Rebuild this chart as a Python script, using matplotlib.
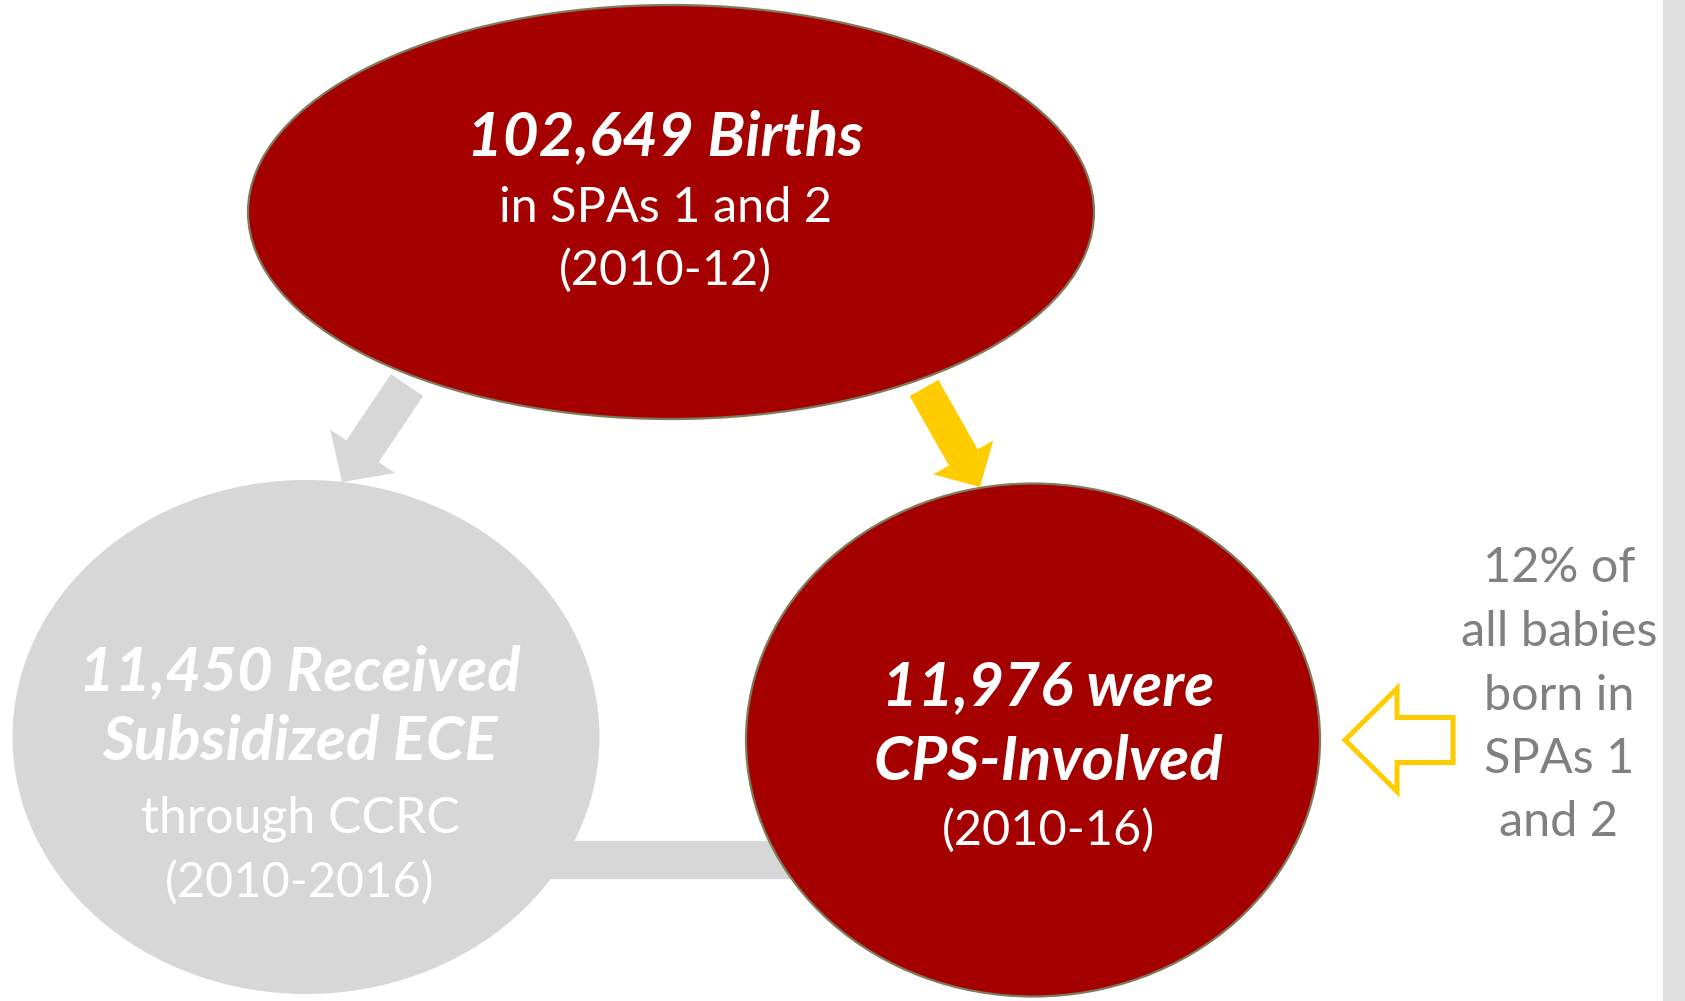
import matplotlib.pyplot as plt
from matplotlib.patches import Ellipse, Rectangle, FancyArrow

# figures shown in the diagram
births = 102649
ece_count = 11450
cps_count = 11976
cps_share = 12

top_lines = [f"{births:,} Births", "in SPAs 1 and 2", "(2010-12)"]
left_lines = [f"{ece_count:,} Received", "Subsidized ECE", "through CCRC", "(2010-2016)"]
right_lines = [f"{cps_count:,} were", "CPS-Involved", "(2010-16)"]
side_lines = [f"{cps_share}% of", "all babies", "born in", "SPAs 1", "and 2"]

RED = "#a40000"
GRAY = "#d7d7d7"
YELLOW = "#ffcc00"
EDGE = "#7d7b5c"
FONT = "Lato"

W, H = 1685, 1001
fig = plt.figure(figsize=(W / 100, H / 100), dpi=100)
ax = fig.add_axes([0, 0, 1, 1])
ax.set_xlim(0, W)
ax.set_ylim(H, 0)
ax.set_aspect("equal")
ax.axis("off")

# light strip at the right edge
ax.add_patch(Rectangle((1663, 0), 22, H, color="#e1e1e1", zorder=0))

# connector bar between the two lower circles
ax.add_patch(Rectangle((450, 841), 400, 37, color=GRAY, zorder=1))

# circles
ax.add_patch(Ellipse((306, 737), 587, 514, facecolor=GRAY, edgecolor="none", zorder=2))
ax.add_patch(Ellipse((1033, 740), 574, 513, facecolor=RED, edgecolor=EDGE, lw=1.6, zorder=3))
ax.add_patch(Ellipse((671, 212), 846, 414, facecolor=RED, edgecolor=EDGE, lw=1.6, zorder=3))

# arrows from the top ellipse
ax.add_patch(FancyArrow(407, 385, 342 - 407, 482 - 385, width=39, head_width=78,
                        head_length=37, length_includes_head=True, color=GRAY,
                        lw=0, zorder=4))
ax.add_patch(FancyArrow(924, 388, 980 - 924, 487 - 388, width=33, head_width=69,
                        head_length=34, length_includes_head=True, color=YELLOW,
                        lw=0, zorder=4))

# outlined arrow pointing at the CPS circle
ax.add_patch(FancyArrow(1453, 740, 1345 - 1453, 0, width=45, head_width=103,
                        head_length=52, length_includes_head=True, facecolor="white",
                        edgecolor=YELLOW, lw=3.6, joinstyle="miter", zorder=4))


def block(lines, x, ys, sizes, bold_rows, color):
    for txt, y, fs, b in zip(lines, ys, sizes, bold_rows):
        ax.text(x, y, txt, ha="center", va="baseline", color=color, fontsize=fs,
                family=FONT, fontweight="bold" if b else "normal",
                fontstyle="italic" if b else "normal", zorder=5)


block(top_lines, 665, [155, 222, 285], [44.5, 35, 35], [True, False, False], "white")
block(left_lines, 300, [690, 760, 832, 897], [44.5, 44.5, 36, 35],
      [True, True, False, False], "white")
block(right_lines, 1048, [705, 780, 845], [44.5, 44.5, 35], [True, True, False], "white")
block(side_lines, 1559, [582, 646, 710, 773, 836], [35] * 5, [False] * 5, "#808080")

fig.savefig("out.png", dpi=100)
